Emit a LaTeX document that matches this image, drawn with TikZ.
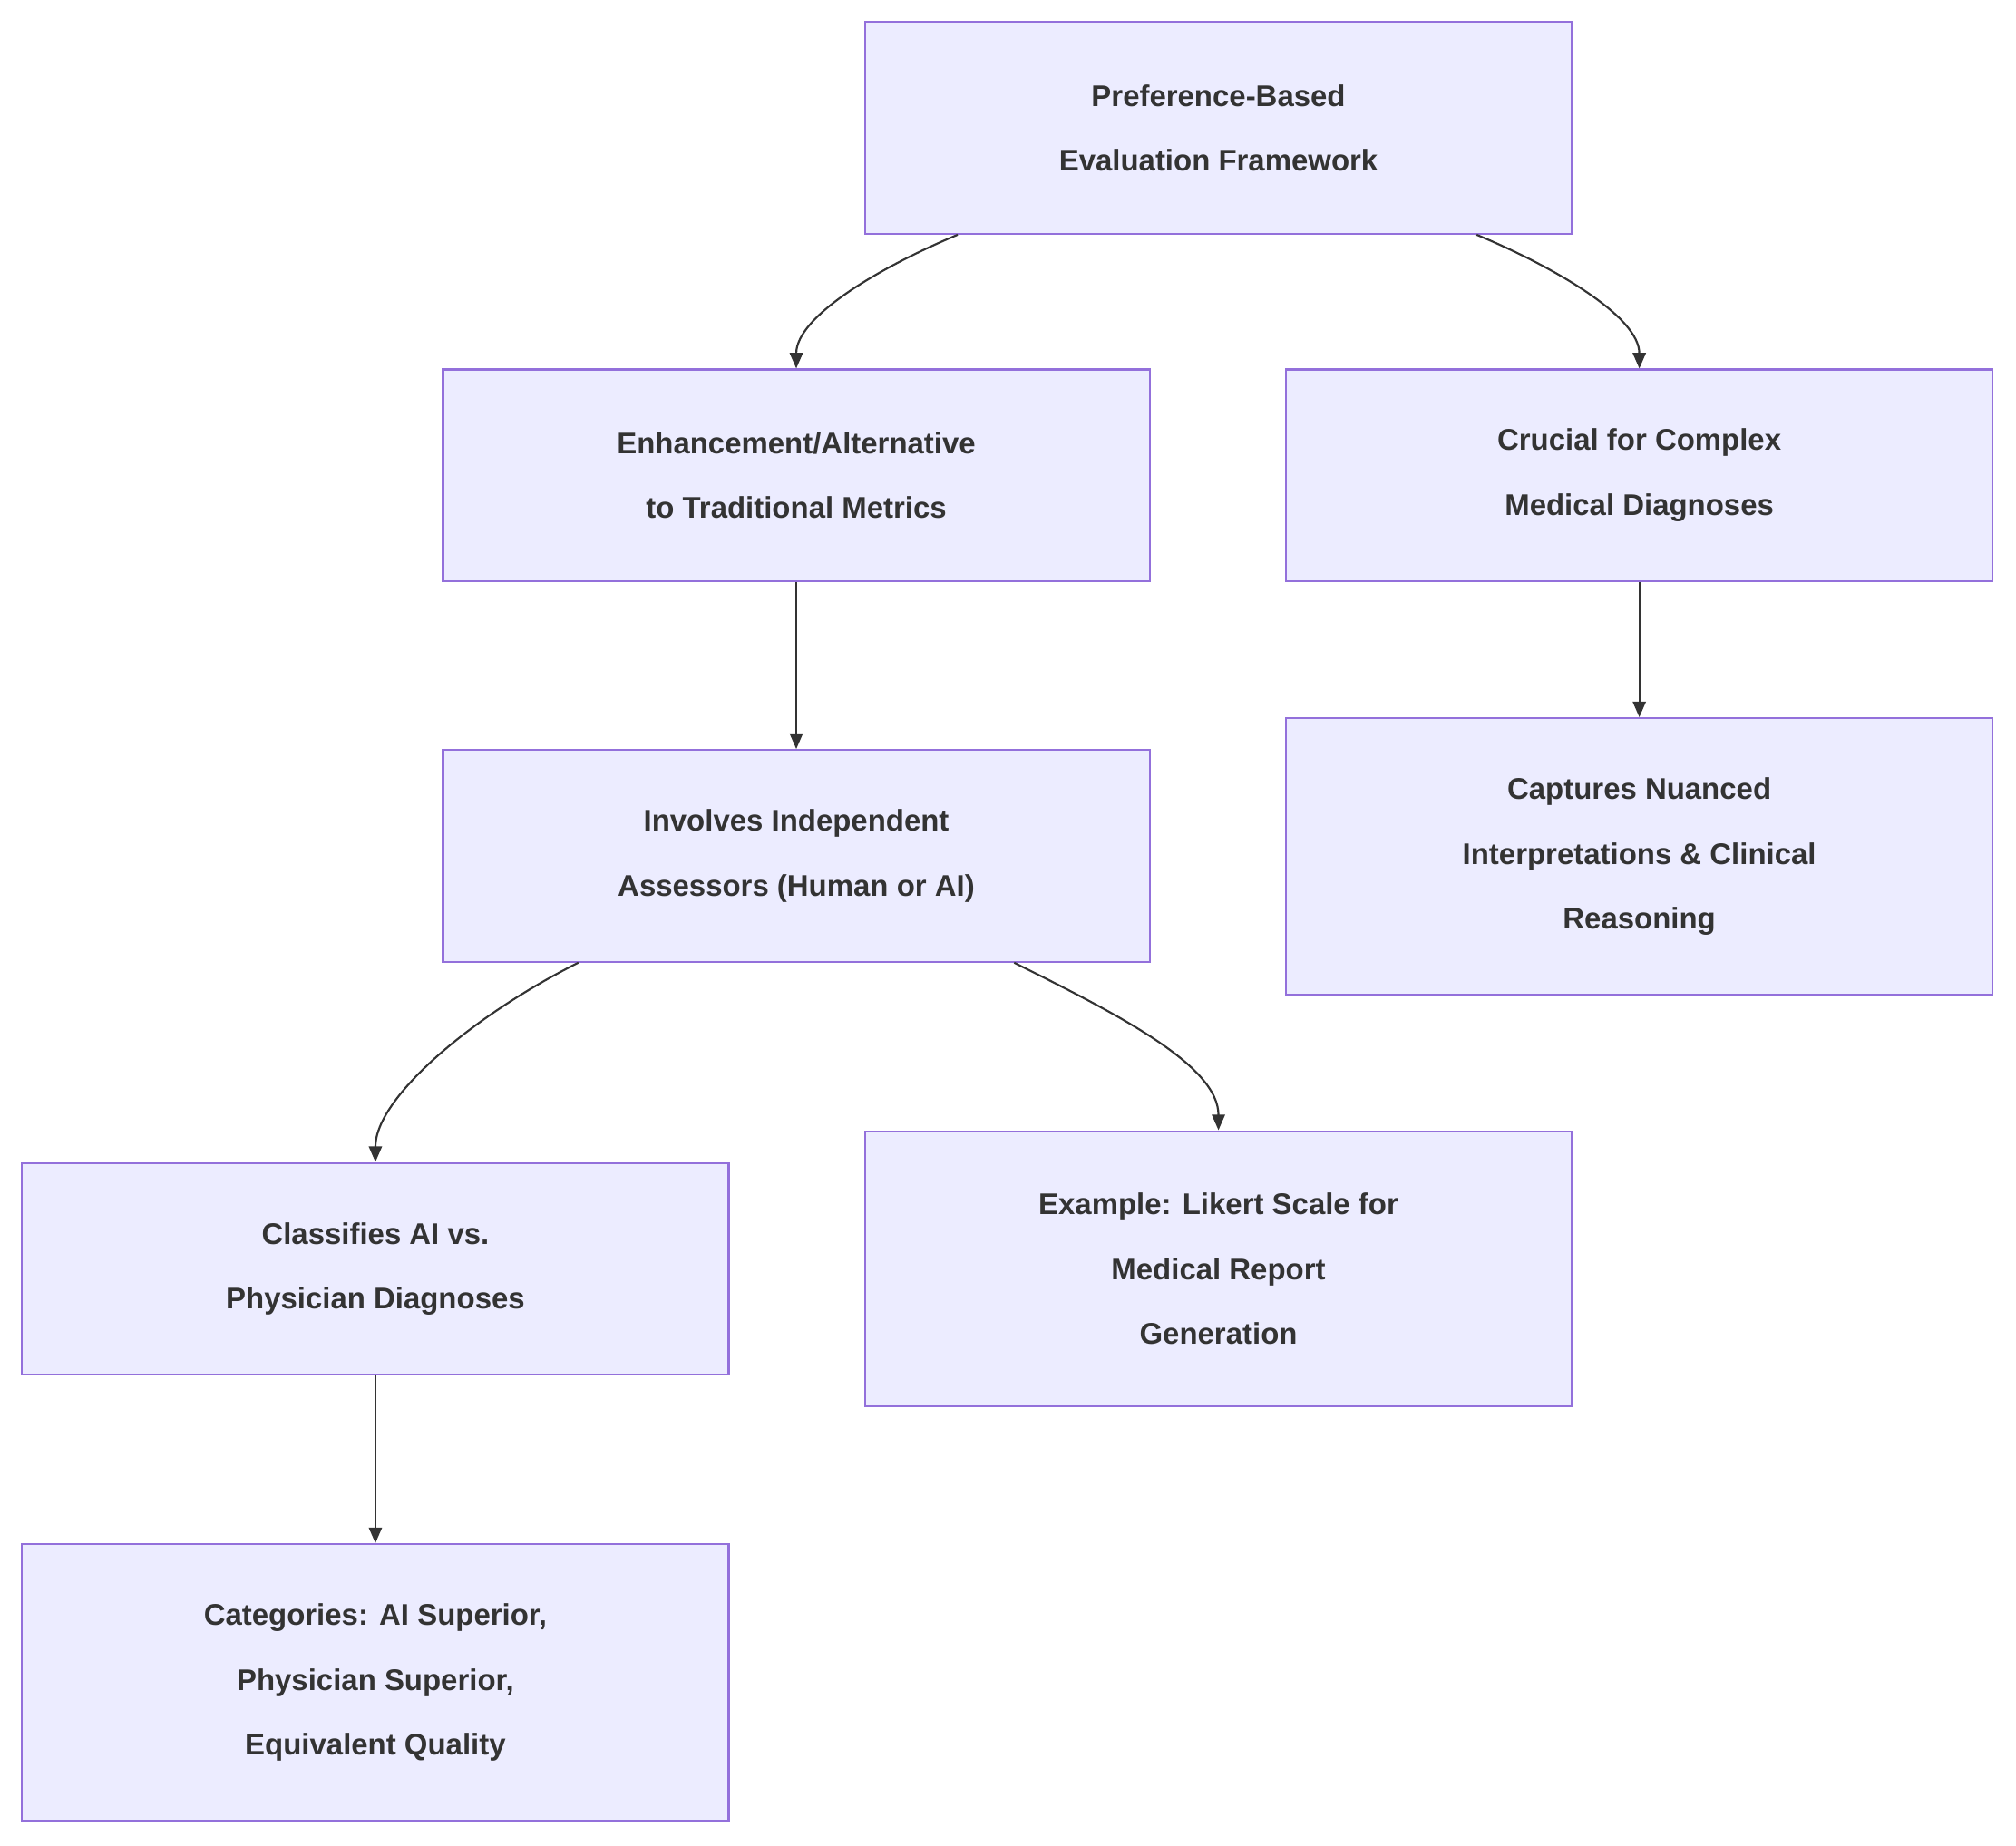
\documentclass[tikz,border=0pt]{standalone}
\usepackage{fontspec}
\setmainfont{Liberation Sans}
\usetikzlibrary{arrows.meta}
\definecolor{nfill}{HTML}{ECECFF}
\definecolor{nline}{HTML}{9370DB}
\definecolor{txt}{HTML}{333333}
\begin{document}
\begin{tikzpicture}[x=1pt,y=-1pt,
 box/.style={draw=nline,line width=1.5pt,fill=nfill,minimum width=544pt,inner sep=0pt,align=center,text=txt,font=\fontsize{23}{50}\selectfont\bfseries},
 ar/.style={draw=txt,line width=1.5pt,-{Triangle[length=12pt,width=10pt]}}]
\useasboundingbox (0,0) rectangle (1552,1421);
\node[box,minimum height=163pt] (A) at (938,98.5) {Preference-Based\\Evaluation Framework};
\node[box,minimum height=163pt] (B) at (613,366) {Enhancement/Alternative\\to Traditional Metrics};
\node[box,minimum height=163pt] (C) at (1262,366) {Crucial for Complex\\Medical Diagnoses};
\node[box,minimum height=163pt] (D) at (613,659) {Involves Independent\\Assessors (Human or AI)};
\node[box,minimum height=213pt] (E) at (1262,659.5) {Captures Nuanced\\Interpretations \& Clinical\\Reasoning};
\node[box,minimum height=163pt] (F) at (289,977) {Classifies AI vs.\\Physician Diagnoses};
\node[box,minimum height=212pt] (G) at (938,977) {Example: Likert Scale for\\Medical Report\\Generation};
\node[box,minimum height=213pt] (H) at (289,1295.5) {Categories: AI Superior,\\Physician Superior,\\Equivalent Quality};
\draw[ar] (A.south west)++(72,0) .. controls +(-60,25) and +(0,-40) .. (B.north);
\draw[ar] (A.south east)++(-74,0) .. controls +(60,25) and +(0,-40) .. (C.north);
\draw[ar] (B) -- (D);
\draw[ar] (C) -- (E);
\draw[ar] (D.south west)++(105,0) .. controls +(-80,40) and +(0,-50) .. (F.north);
\draw[ar] (D.south east)++(-105,0) .. controls +(80,40) and +(0,-50) .. (G.north);
\draw[ar] (F) -- (H);
\end{tikzpicture}
\end{document}
